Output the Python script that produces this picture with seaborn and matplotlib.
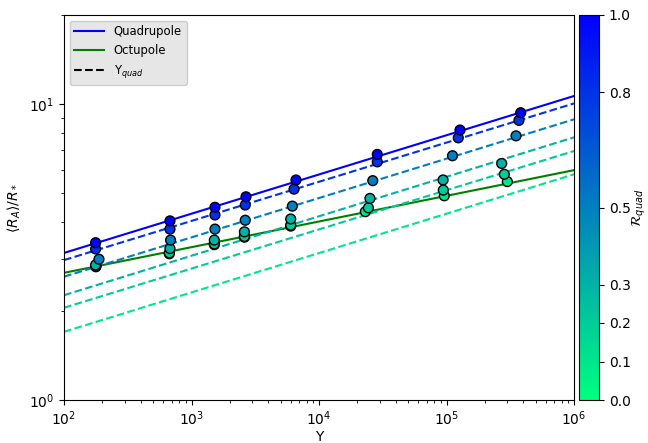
import matplotlib
matplotlib.use('Agg')
import matplotlib.pyplot as plt
from matplotlib.colors import Normalize
from matplotlib.lines import Line2D
import numpy as np
import pandas as pd
import seaborn as sns


# 1. Data
#    straight lines in log-log space: values at Y = 1e2 and Y = 1e6
line_Y = [1e2, 1e6]
quad_line = [3.14, 10.65]
oct_line = [2.69, 5.98]

#    Y_quad lines, one per R_quad value
yquad_R = [0.8, 0.5, 0.3, 0.2, 0.1]
yquad_lines = [
    [2.97, 10.05],
    [2.61, 8.88],
    [2.26, 7.72],
    [2.05, 6.94],
    [1.70, 5.79],
]

#    simulation points (per group: R = 0.1, 0.2, 0.3, 0.5, 0.8, 1.0)
point_Y = [
    178, 178, 177, 188, 177, 177,
    670, 670, 678, 685, 678, 678,
    1510, 1510, 1510, 1528, 1528, 1528,
    2600, 2600, 2600, 2640, 2640, 2675,
    6000, 6000, 6000, 6180, 6370, 6600,
    23100, 24400, 25100, 26400, 28650, 28650,
    96100, 94400, 94000, 111400, 123700, 127600,
    300000, 284000, 271000, 351000, 370000, 382000,
]
point_radius = [
    2.82, 2.84, 2.86, 2.99, 3.24, 3.40,
    3.12, 3.14, 3.25, 3.47, 3.78, 4.03,
    3.35, 3.37, 3.47, 3.78, 4.22, 4.48,
    3.55, 3.57, 3.70, 4.05, 4.56, 4.86,
    3.87, 3.90, 4.09, 4.52, 5.16, 5.54,
    4.33, 4.46, 4.80, 5.51, 6.38, 6.76,
    4.90, 5.12, 5.54, 6.69, 7.69, 8.17,
    5.47, 5.79, 6.30, 7.81, 8.81, 9.35,
]
point_R = [0.1, 0.2, 0.3, 0.5, 0.8, 1.0] * 8

cbar_ticks = [0.0, 0.1, 0.2, 0.3, 0.5, 0.8, 1.0]

# 2. Figure
cmap = plt.get_cmap('winter_r')
norm = Normalize(vmin=0, vmax=1)

fig = plt.figure(figsize=(6.48, 4.43), dpi=100)
ax = fig.add_axes([64 / 648, 43 / 443, 510 / 648, 385 / 443])

sns.lineplot(x=line_Y, y=quad_line, color='blue', ax=ax, legend=False)
sns.lineplot(x=line_Y, y=oct_line, color='green', ax=ax, legend=False)
for r, vals in zip(yquad_R, yquad_lines):
    sns.lineplot(x=line_Y, y=vals, color=cmap(norm(r)), linestyle='--',
                 ax=ax, legend=False)

points = pd.DataFrame({'Y': point_Y, 'radius': point_radius, 'R': point_R})
sns.scatterplot(data=points, x='Y', y='radius', hue='R', palette='winter_r',
                hue_norm=(0, 1), edgecolor='black', linewidth=1, s=50,
                legend=False, zorder=3, ax=ax)

ax.set_xscale('log')
ax.set_yscale('log')
ax.set_xlim(1e2, 1e6)
ax.set_ylim(1, 20)
ax.set_xlabel('Y', labelpad=1)
ax.set_ylabel(r'$\langle R_A\rangle/R_*$')

handles = [
    Line2D([], [], color='blue', label='Quadrupole'),
    Line2D([], [], color='green', label='Octupole'),
    Line2D([], [], color='black', linestyle='--', label=r'Y$_{quad}$'),
]
ax.legend(handles=handles, loc='upper left', facecolor='#e6e6e6',
          framealpha=1, fontsize='small', handlelength=2.6)

# colorbar
cax = fig.add_axes([579 / 648, 43 / 443, 20 / 648, 385 / 443])
sm = plt.cm.ScalarMappable(norm=norm, cmap=cmap)
cb = fig.colorbar(sm, cax=cax, ticks=cbar_ticks)
cb.set_label(r'$\mathcal{R}_{quad}$', labelpad=-1)

plt.savefig('out.png', dpi=100)
